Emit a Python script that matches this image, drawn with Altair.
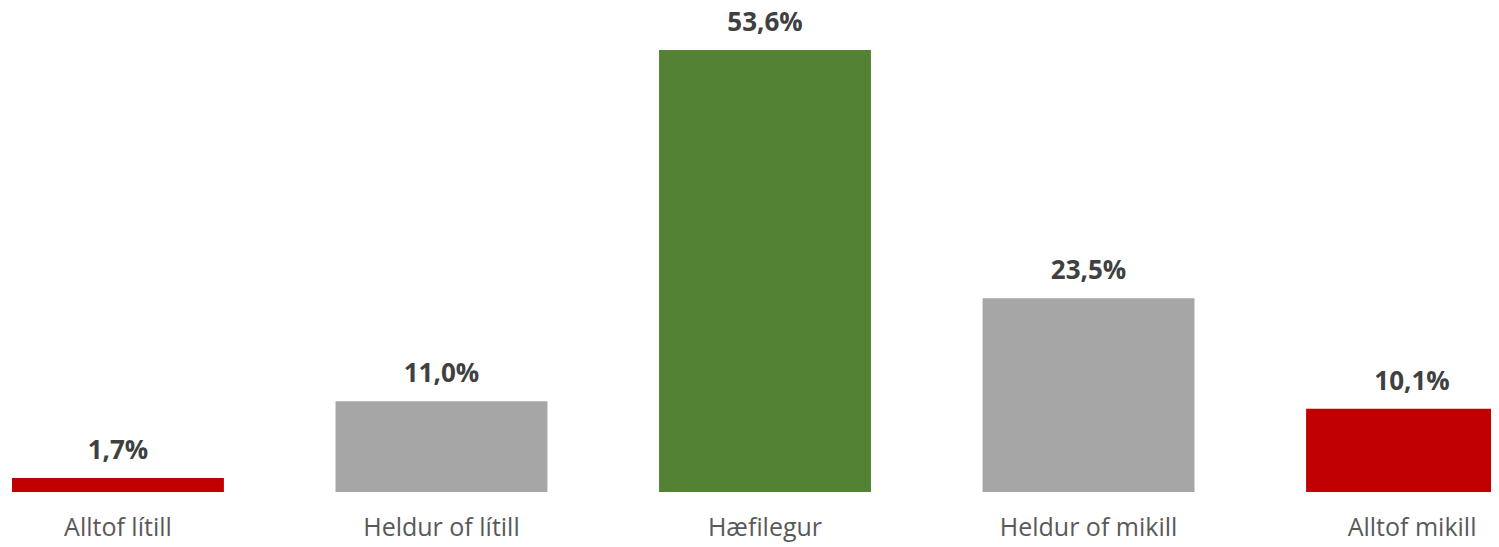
import altair as alt
import pandas as pd

categories = ["Alltof lítill", "Heldur of lítill", "Hæfilegur", "Heldur of mikill", "Alltof mikill"]
values = [1.7, 11.0, 53.6, 23.5, 10.1]
labels = ["1,7%", "11,0%", "53,6%", "23,5%", "10,1%"]
colors = ["#C00000", "#A6A6A6", "#548235", "#A6A6A6", "#C00000"]

df = pd.DataFrame({"cat": categories, "val": values, "lab": labels, "col": colors})

x = alt.X("cat:N", sort=categories, title=None,
          scale=alt.Scale(range=[4, 1510], paddingInner=0.345, paddingOuter=0),
          axis=alt.Axis(labelAngle=0, domain=False, ticks=False, labelPadding=23,
                        labelFont="Open Sans", labelFontSize=25, labelColor="#595959",
                        labelLimit=400))
y = alt.Y("val:Q", scale=alt.Scale(domain=[0, 58.7], nice=False, zero=True), axis=None, title=None)

bars = alt.Chart(df).mark_bar(clip=True).encode(
    x=x, y=y, color=alt.Color("col:N", scale=None)
)
text = alt.Chart(df).mark_text(
    baseline="alphabetic", dy=-19, font="Open Sans", fontSize=26, fontWeight="bold", color="#404040"
).encode(x=alt.X("cat:N", sort=categories), y="val:Q", text="lab:N")

chart = alt.layer(bars, text).properties(
    width=1483, height=484,
    autosize=alt.AutoSizeParams(type="none"),
    padding={"left": 0, "right": 0, "top": 0, "bottom": 52},
).configure_view(stroke=None)

chart.save("out.html", embed_options={"renderer": "svg", "actions": False})
